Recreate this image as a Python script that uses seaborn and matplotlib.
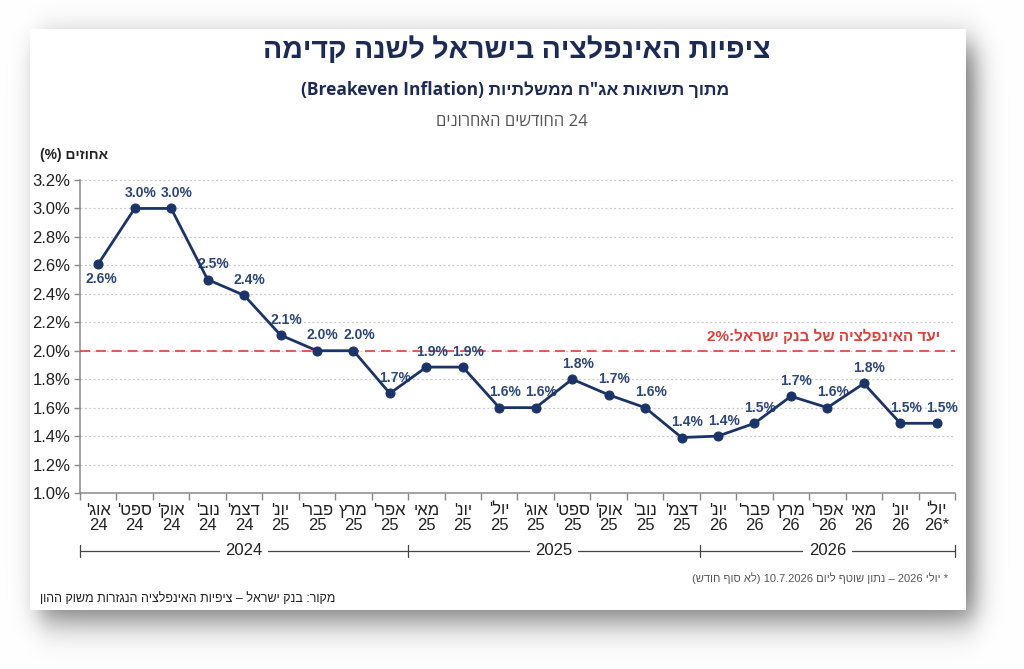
import re
import numpy as np
import matplotlib
matplotlib.use("Agg")
import matplotlib.pyplot as plt
import matplotlib.transforms as mtransforms
import seaborn as sns

# data
months = ["אוג'", "ספט'", "אוק'", "נוב'", "דצמ'", "יונ'", "פבר'", "מרץ", "אפר'", "מאי", "יונ'", "יול'",
          "אוג'", "ספט'", "אוק'", "נוב'", "דצמ'", "יונ'", "פבר'", "מרץ", "אפר'", "מאי", "יונ'", "יול'"]
years = ["24", "24", "24", "24", "24", "25", "25", "25", "25", "25", "25", "25",
         "25", "25", "25", "25", "25", "26", "26", "26", "26", "26", "26", "26*"]
values = [2.61, 3.0, 3.0, 2.50, 2.39, 2.11, 2.0, 2.0, 1.70, 1.885, 1.885, 1.60,
          1.60, 1.80, 1.69, 1.60, 1.39, 1.40, 1.49, 1.68, 1.60, 1.77, 1.49, 1.49]
target = 2.0
yticks = [1.0, 1.2, 1.4, 1.6, 1.8, 2.0, 2.2, 2.4, 2.6, 2.8, 3.0, 3.2]
year_groups = ["2024", "2025", "2026"]
year_edges = [-0.5, 8.5, 16.5, 23.5]

title = "ציפיות האינפלציה בישראל לשנה קדימה"
subtitle = "מתוך תשואות אג\"ח ממשלתיות (Breakeven Inflation)"
period = "24 החודשים האחרונים"
ylabel = "אחוזים (%)"
target_label = "יעד האינפלציה של בנק ישראל:2%"
footnote = "* יולי 2026 – נתון שוטף ליום 10.7.2026 (לא סוף חודש)"
source = "מקור: בנק ישראל – ציפיות האינפלציה הנגזרות משוק ההון"

NAVY = "#1b3468"
RED = "#e0403a"


def heb(s):
    # crude visual reordering for right-to-left text
    rev = s[::-1]
    rev = re.sub(r"[A-Za-z0-9%][A-Za-z0-9 .,%]*[A-Za-z0-9%]|[A-Za-z0-9%]",
                 lambda m: m.group(0)[::-1], rev)
    return rev.translate(str.maketrans("()", ")("))


def soft(t, a, b, s):
    return 1 / (1 + np.exp(-(t - a) / s)) - 1 / (1 + np.exp(-(t - b) / s))


sns.set_theme(style="white")
fonts = ["Liberation Sans", "DejaVu Sans"]
head = ["Open Sans", "Liberation Sans", "DejaVu Sans"]
plt.rcParams["font.family"] = fonts

W, H = 1024, 669
fig = plt.figure(figsize=(W / 100, H / 100), dpi=100)
fig.patch.set_facecolor("white")

# white card with a soft drop shadow, drawn as a background image
cx0, cy0, cx1, cy1 = 30, 29, 966, 610
xx = np.arange(W) + 0.5
yy = np.arange(H) + 0.5
shade = 0.55 * np.outer(soft(yy, 44, 620, 10), soft(xx, 40, 975, 7))
bg = 1 - shade
bg[cy0:cy1, cx0:cx1] = 1.0
bg_ax = fig.add_axes([0, 0, 1, 1], zorder=-5)
bg_ax.imshow(np.dstack([bg, bg, bg]), extent=(0, W, H, 0), aspect="auto", interpolation="bilinear")
bg_ax.set_axis_off()

ax = fig.add_axes([80 / W, 1 - 493 / H, (955 - 80) / W, (493 - 180) / H])
ax.set_facecolor("white")

x = np.arange(len(values))
sns.lineplot(x=x, y=values, ax=ax, color=NAVY, linewidth=2.0, marker="o",
             markersize=6.5, markeredgecolor=NAVY, zorder=5)

ax.axhline(target, color=RED, linewidth=1.2, dashes=(6, 3.5), zorder=3)
ax.text(23.1, target + 0.045, heb(target_label), color=RED, fontsize=11,
        fontweight="bold", ha="right", va="bottom")

for i, v in enumerate(values):
    if i == 0:
        ax.annotate(f"{v:.1f}%", (i, v), xytext=(2, -6), textcoords="offset points",
                    ha="center", va="top", fontsize=10, fontweight="bold", color="#2c4677")
    else:
        ax.annotate(f"{v:.1f}%", (i, v), xytext=(4, 6), textcoords="offset points",
                    ha="center", va="bottom", fontsize=10, fontweight="bold", color="#2c4677")

ax.set_xlim(-0.5, 23.5)
ax.set_ylim(1.0, 3.2)
ax.set_yticks(yticks)
ax.set_yticklabels([f"{t:.1f}%" for t in yticks], fontsize=12, color="#222222")
ax.set_xticks(x)
ax.set_xticklabels([heb(m) + "\n" + y for m, y in zip(months, years)],
                   fontsize=12, color="#222222", linespacing=1.0)
ax.set_xticks(np.arange(-0.5, 24, 1), minor=True)
ax.tick_params(axis="x", which="major", length=0, pad=7)
ax.tick_params(axis="x", which="minor", length=5, color="#888888", width=1, direction="out", bottom=True)
ax.tick_params(axis="y", length=4, color="#888888", width=1, left=True, pad=3)
ax.set_xlabel("")
ax.set_ylabel("")

ax.yaxis.grid(True, color="#c8c8c8", linestyle=(0, (1.5, 2)), linewidth=0.9)
ax.set_axisbelow(True)
for side in ["top", "right"]:
    ax.spines[side].set_visible(False)
for side in ["left", "bottom"]:
    ax.spines[side].set_color("#8a8a8a")
    ax.spines[side].set_linewidth(1.1)

# year brackets below the axis
trans = mtransforms.blended_transform_factory(ax.transData, ax.transAxes)
yb = -0.185
ax.plot([year_edges[0], year_edges[-1]], [yb, yb], transform=trans, color="#444444",
        linewidth=0.9, clip_on=False)
for e in year_edges:
    ax.plot([e, e], [yb - 0.02, yb + 0.02], transform=trans, color="#444444",
            linewidth=0.9, clip_on=False)
for k, yr in enumerate(year_groups):
    mid = (year_edges[k] + year_edges[k + 1]) / 2
    ax.text(mid, yb, yr, transform=trans, ha="center", va="center", fontsize=12,
            color="#222222", bbox=dict(facecolor="white", edgecolor="none", pad=4))

fig.text(0.505, 0.925, heb(title), ha="center", va="center", fontsize=20.5,
         fontweight="bold", color="#1c2b55", family=head)
fig.text(0.503, 0.866, heb(subtitle), ha="center", va="center", fontsize=12.5,
         fontweight="bold", color="#1c2b55", family=head)
fig.text(0.5, 0.818, heb(period), ha="center", va="center", fontsize=12,
         color="#555555", family=head)
fig.text(0.039, 0.768, heb(ylabel), ha="left", va="center", fontsize=10, fontweight="bold",
         color="#222222")
fig.text(0.926, 0.136, heb(footnote), ha="right", va="center", fontsize=8, color="#555555")
fig.text(0.039, 0.106, heb(source), ha="left", va="center", fontsize=9, color="#222222")

fig.savefig("out.png", dpi=100, facecolor="white")
